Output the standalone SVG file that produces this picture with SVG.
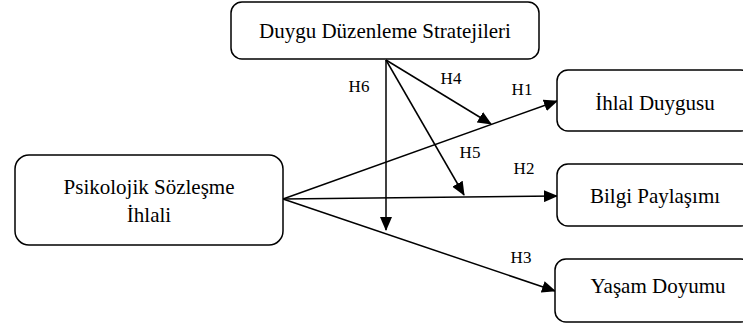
<svg xmlns="http://www.w3.org/2000/svg" width="743" height="325" viewBox="0 0 743 325">
<style>
.box{fill:#fff;stroke:#000;stroke-width:1.5}
.t{font-family:'Liberation Serif','Times New Roman','DejaVu Serif',serif;font-size:21px;fill:#000;text-anchor:middle}
.l{font-family:'Liberation Serif','Times New Roman','DejaVu Serif',serif;font-size:17px;fill:#000;text-anchor:middle}
.c{stroke:#000;stroke-width:1.5;fill:none;marker-end:url(#ah)}
</style>
<defs>
<marker id="ah" markerWidth="14" markerHeight="12" refX="13" refY="6" orient="auto" markerUnits="userSpaceOnUse">
<path d="M0,0 L14,6 L0,12 Z" fill="#000"/>
</marker>
</defs>
<g id="connectors">
<line class="c" x1="283" y1="199" x2="557" y2="101"/>
<line class="c" x1="283" y1="199" x2="557" y2="196"/>
<line class="c" x1="283" y1="199" x2="555" y2="291"/>
<line class="c" x1="386" y1="60" x2="386" y2="230"/>
<line class="c" x1="386" y1="60" x2="491" y2="124"/>
<line class="c" x1="386" y1="60" x2="464" y2="195"/>
</g>
<g id="labels">
<text class="l" x="359" y="92">H6</text>
<text class="l" x="451" y="84">H4</text>
<text class="l" x="522" y="95">H1</text>
<text class="l" x="470" y="158">H5</text>
<text class="l" x="524" y="174">H2</text>
<text class="l" x="521" y="263">H3</text>
</g>
<g id="dds">
<rect class="box" x="231" y="2" width="308" height="57" rx="11"/>
<text class="t" x="385" y="38">Duygu Düzenleme Stratejileri</text>
</g>
<g id="pshi">
<rect class="box" x="15" y="155" width="268" height="90" rx="14"/>
<text class="t" x="149" y="194">Psikolojik Sözleşme</text>
<text class="t" x="149" y="222">İhlali</text>
</g>
<g id="ihlal">
<rect class="box" x="557" y="70" width="195" height="61" rx="11"/>
<text class="t" x="655" y="110">İhlal Duygusu</text>
</g>
<g id="bilgi">
<rect class="box" x="557" y="164" width="195" height="62" rx="11"/>
<text class="t" x="655" y="203">Bilgi Paylaşımı</text>
</g>
<g id="yasam">
<rect class="box" x="555" y="259" width="197" height="63" rx="11"/>
<text class="t" x="658" y="293">Yaşam Doyumu</text>
</g>
</svg>
